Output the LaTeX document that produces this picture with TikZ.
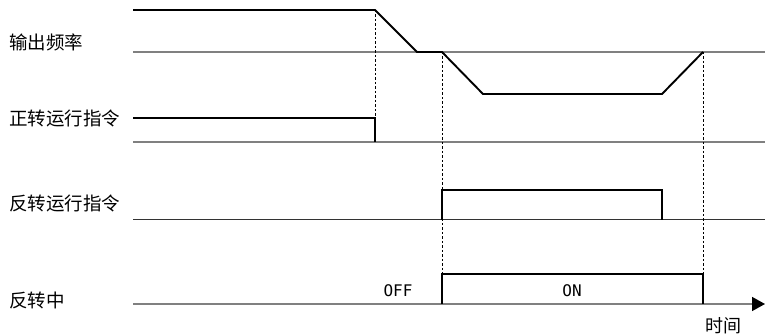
\documentclass[tikz,border=0pt]{standalone}
\usepackage{fontspec}
\setmainfont{Noto Sans CJK SC}
\newfontfamily\statefont{DejaVu Sans Mono}
\usepackage{tikz}
\usetikzlibrary{arrows.meta,positioning,calc}

\begin{document}
\begin{tikzpicture}[x=1pt, y=-1pt,
  sig/.style={line width=1.9pt, line join=miter},
  base/.style={line width=1.5pt, draw=black!50},
  guide/.style={line width=0.7pt, dash pattern=on 2.5pt off 2pt},
  lbl/.style={anchor=west, inner sep=0pt, font=\fontsize{18.5}{18.5}\selectfont},
  st/.style={inner sep=0pt, font=\statefont\fontsize{16}{16}\selectfont}]
  \useasboundingbox (0,0) rectangle (765,336);
  % time instants
  \coordinate (t1) at (375,0);
  \coordinate (t2) at (442,0);
  \coordinate (t3) at (703,0);
  % signal names
  \node[lbl] (freq)  at (9,42)  {输出频率};
  \node[lbl] (fwd)   at (9,118) {正转运行指令};
  \node[lbl] (rev)   at (9,203) {反转运行指令};
  \node[lbl] (revon) at (9,300) {反转中};
  % zero lines
  \draw[base] (133,52) -- (765,52);
  \draw[base] (133,142) -- (765,142);
  \draw[line width=1pt, draw=black!80] (133,220) -- (765,220);
  \draw[base] (133,304) -- (752,304);
  \draw[-{Triangle[length=13pt, width=14pt, color=black]}, base] (740,304) -- (765,304);
  \node[inner sep=0pt, font=\fontsize{18}{18}\selectfont] (time) at (723,326) {时间};
  % guides
  \draw[guide] (t1 |- 0,10) -- (t1 |- 0,118);
  \draw[guide] (t2 |- 0,52) -- (t2 |- 0,274);
  \draw[guide] (t3 |- 0,52) -- (t3 |- 0,274);
  % output frequency
  \draw[sig] (133,10) -- (t1 |- 0,10) -- (417,52) -- (t2 |- 0,52) -- (483,94)
    -- (662,94) -- (t3 |- 0,52);
  % forward run command
  \draw[sig] (133,118) -- (t1 |- 0,118) -- (t1 |- 0,142);
  % reverse run command
  \draw[sig] (t2 |- 0,220) -- (t2 |- 0,190) -- (662,190) -- (662,220);
  % reversing
  \draw[sig] (t2 |- 0,304) -- (t2 |- 0,274) -- (t3 |- 0,274) -- (t3 |- 0,304);
  \node[st] (off) at (398,291) {OFF};
  \node[st] (on)  at (572,291) {ON};
\end{tikzpicture}
\end{document}
